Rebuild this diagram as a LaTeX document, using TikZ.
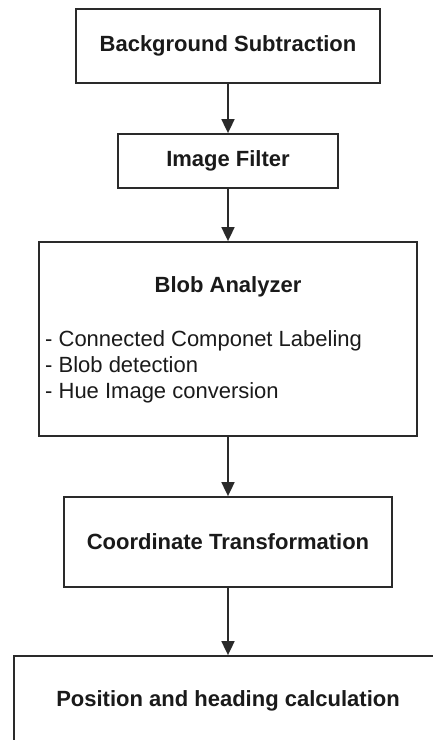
\documentclass[tikz,border=0pt]{standalone}
\usepackage{fontspec}
\setmainfont{Liberation Sans}
\usetikzlibrary{arrows.meta}
\definecolor{linegray}{HTML}{2A2A2A}
\definecolor{textgray}{HTML}{1A1A1A}
\begin{document}
\begin{tikzpicture}[x=1pt,y=-1pt,
  box/.style={draw=linegray, line width=1.8pt, fill=white, inner sep=0pt,
    font=\fontsize{22}{26}\selectfont\bfseries, text=textgray},
  lbl/.style={font=\fontsize{22}{26}\selectfont\bfseries, text=textgray, inner sep=0pt},
  item/.style={font=\fontsize{22}{26}\selectfont, text=textgray, inner sep=0pt, anchor=base west},
  flow/.style={draw=linegray, line width=1.8pt, -{Triangle[length=14pt,width=13pt]}}]
\fill[white] (0,0) rectangle (432,740);
\useasboundingbox (0,0) rectangle (432,740);

\node[box, minimum width=304pt, minimum height=74pt] (bs) at (228,46) {Background Subtraction};
\node[box, minimum width=220pt, minimum height=54pt] (imf) at (228,161) {Image Filter};
\node[box, minimum width=378pt, minimum height=194pt] (blob) at (228,339) {};
\node[lbl, anchor=base] (blobt) at (228,292) {Blob Analyzer};
\node[item] (i1) at (45,346) {- Connected Componet Labeling};
\node[item] (i2) at (45,372) {- Blob detection};
\node[item] (i3) at (45,398) {- Hue Image conversion};
\node[box, minimum width=328pt, minimum height=90pt] (ct) at (228,542) {Coordinate Transformation};
\node[box, minimum width=428pt, minimum height=90pt] (ph) at (228,701) {Position and heading calculation};

\draw[flow] (bs.south) -- (imf.north);
\draw[flow] (imf.south) -- (blob.north);
\draw[flow] (blob.south) -- (ct.north);
\draw[flow] (ct.south) -- (ph.north);
\end{tikzpicture}
\end{document}
